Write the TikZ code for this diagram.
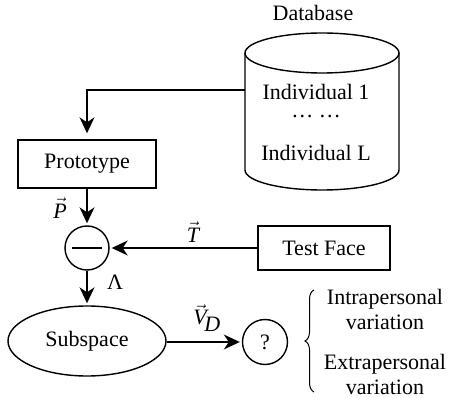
\documentclass[tikz,border=0pt]{standalone}
\usepackage{fontspec}
\setmainfont{Liberation Serif}
\usetikzlibrary{arrows.meta,shapes.geometric,decorations.pathreplacing}
\tikzset{
  arr/.style={-{Stealth[length=16pt,width=15pt,inset=5pt]}, shorten >=2pt},
  boxnode/.style={draw, rectangle, inner sep=0pt},
  lbl/.style={inner sep=0pt}
}
\begin{document}
\begin{tikzpicture}[x=1pt,y=-1pt,font=\fontsize{22}{25}\selectfont,line width=1.4pt]
\useasboundingbox (0,0) rectangle (456,398);
% database cylinder
\draw (322,53) ellipse [x radius=77, y radius=20];
\draw (245,53) -- (245,170) arc[start angle=180,end angle=0,x radius=77,y radius=20] -- (399,53);
\node[lbl] (dbt) at (313,13) {Database};
\node[lbl] (i1) at (316,92) {Individual 1};
\node[lbl] (dots) at (316,117) {… …};
\node[lbl] (iL) at (316,153) {Individual L};
\coordinate (dbl) at (245,90);
% boxes
\node[boxnode,minimum width=138pt,minimum height=48pt] (proto) at (87,164) {Prototype};
\node[circle,draw,minimum size=44pt,inner sep=0pt] (minus) at (87,248) {\rule{30pt}{1.4pt}};
\node[boxnode,minimum width=132pt,minimum height=44pt] (test) at (324,248) {Test Face};
\node[ellipse,draw,minimum width=158pt,minimum height=70pt,inner sep=0pt] (sub) at (87,341) {Subspace};
\node[circle,draw,minimum size=45pt,inner sep=0pt] (q) at (265,342) {?};
% labels
\node[lbl] (lp) at (60,208) {$\vec{\textit{P}}$};
\node[lbl] (lt) at (193,232) {$\vec{\textit{T}}$};
\node[lbl] (ll) at (115,282) {Λ};
\node[lbl] (lv) at (207,318) {$\vec{\textit{V}}_{\!\textit{D}}$};
\node[align=center,inner sep=0pt] (intra) at (385,309) {Intrapersonal\\variation};
\node[align=center,inner sep=0pt] (extra) at (385,374) {Extrapersonal\\variation};
% connectors
\draw[arr,shorten >=6pt] (dbl) -| (proto.north);
\draw[arr] (proto.south) -- (minus.north);
\draw[arr] (test.west) -- (minus.east);
\draw[arr] (minus.south) -- (sub.north);
\draw[arr] (sub.east |- q.west) -- (q.west);
\draw[line width=1pt,decorate,decoration={brace,amplitude=9pt}] (314,392) -- (314,290);
\end{tikzpicture}
\end{document}
